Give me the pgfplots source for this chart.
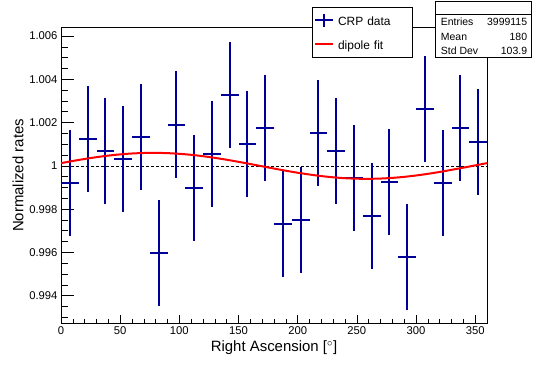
\documentclass[border=0pt]{standalone}
\usepackage{fontspec}
\setmainfont{Liberation Sans}
\usepackage{pgfplots}
\usepackage{pgfplotstable}
\pgfplotsset{compat=1.18}
\definecolor{crpblue}{RGB}{0,0,153}
\pgfplotstableread{
x y ex ey
7.5 0.99919 7.5 0.00245
22.5 1.00123 7.5 0.00245
37.5 1.00068 7.5 0.00245
52.5 1.00031 7.5 0.00245
67.5 1.00133 7.5 0.00245
82.5 0.99598 7.5 0.00245
97.5 1.00191 7.5 0.00245
112.5 0.99896 7.5 0.00245
127.5 1.00055 7.5 0.00245
142.5 1.00327 7.5 0.00245
157.5 1.00103 7.5 0.00245
172.5 1.00177 7.5 0.00245
187.5 0.99732 7.5 0.00245
202.5 0.99751 7.5 0.00245
217.5 1.00152 7.5 0.00245
232.5 1.00068 7.5 0.00245
247.5 0.99946 7.5 0.00245
262.5 0.99768 7.5 0.00245
277.5 0.99925 7.5 0.00245
292.5 0.99577 7.5 0.00245
307.5 1.00263 7.5 0.00245
322.5 0.99920 7.5 0.00245
337.5 1.00177 7.5 0.00245
352.5 1.00109 7.5 0.00245
}\crpdata
\pgfplotstableread{
x y
0 1.000125
10 1.000225
20 1.000318
30 1.000401
40 1.000473
50 1.000530
60 1.000571
70 1.000594
80 1.000600
90 1.000587
100 1.000556
110 1.000509
120 1.000446
130 1.000369
140 1.000282
150 1.000185
160 1.000084
170 0.999979
180 0.999875
190 0.999775
200 0.999682
210 0.999599
220 0.999527
230 0.999470
240 0.999429
250 0.999406
260 0.999400
270 0.999413
280 0.999444
290 0.999491
300 0.999554
310 0.999631
320 0.999718
330 0.999815
340 0.999916
350 1.000021
360 1.000125
}\fitdata
\begin{document}
\begin{tikzpicture}
\useasboundingbox (0bp,0bp) rectangle (533bp,365bp);
\begin{axis}[
  at={(61bp,41.7bp)}, anchor=south west,
  scale only axis, width=426bp, height=295.6bp,
  xmin=0, xmax=360, ymin=0.992725, ymax=1.006383,
  axis line style={black, line width=0.8bp},
  tick align=inside, xtick pos=bottom, ytick pos=left,
  xtick={0,50,...,350},
  minor xtick={0,10,...,360},
  ytick={0.994,0.996,0.998,1,1.002,1.004,1.006},
  minor ytick={0.993,0.9935,0.9945,0.995,0.9955,0.9965,0.997,0.9975,0.9985,0.999,0.9995,1.0005,1.001,1.0015,1.0025,1.003,1.0035,1.0045,1.005,1.0055,1.0065},
  xtick style={black, line width=0.6bp, /pgfplots/major tick length=8.3bp, /pgfplots/minor tick length=4.5bp},
  ytick style={black, line width=0.6bp, /pgfplots/major tick length=13bp, /pgfplots/minor tick length=6.7bp},
  scaled y ticks=false, scaled x ticks=false,
  yticklabel style={/pgf/number format/fixed, /pgf/number format/precision=3},
  /pgf/number format/assume math mode=true,
  tick label style={font=\fontsize{11.3}{13}\selectfont},
  label style={font=\fontsize{15}{17}\selectfont},
  xlabel={Right Ascension [$^\circ$]},
  ylabel={Normalized rates},
  xlabel style={at={(axis description cs:0.5,-0.0836)}, anchor=center},
  ylabel style={at={(axis description cs:-0.101,0.5)}, anchor=center},
  legend style={at={(axis description cs:0.5885,1.0711)}, anchor=north west,
    draw=black, line width=0.8bp, fill=white, inner xsep=2.3bp, inner ysep=1.7bp,
    row sep=0bp, column sep=4bp,
    font=\fontsize{12}{14}\selectfont,
    nodes={inner sep=0pt, text width=72bp, text height=17bp, text depth=6.3bp}},
  legend cell align=left,
]
\addlegendimage{legend image code/.code={\draw[crpblue, line width=2bp] (0bp,0bp) -- (17.7bp,0bp) (8.85bp,-6.3bp) -- (8.85bp,6.3bp);}}
\addlegendentry{CRP data}
\addlegendimage{legend image code/.code={\draw[red, line width=2bp] (0bp,0bp) -- (17.7bp,0bp);}}
\addlegendentry{dipole fit}
\addplot[forget plot, black, line width=0.6bp, dash pattern=on 2.5bp off 2.5bp] coordinates {(0,1) (360,1)};
\addplot[forget plot, crpblue, draw=none, mark=none, line width=2bp,
  error bars/.cd, x dir=both, x explicit, y dir=both, y explicit, error mark=none,
  error bar style={draw=crpblue, line width=2bp, solid}]
  table[x=x, y=y, x error=ex, y error=ey] {\crpdata};
\addplot[forget plot, red, line width=2bp, smooth] table[x=x, y=y] {\fitdata};
\end{axis}
\draw[line width=0.8bp, fill=white] (435bp,364bp) rectangle (531bp,307.7bp);
\draw[line width=0.8bp] (435bp,350.7bp) -- (531bp,350.7bp);
\begin{scope}[every node/.style={inner sep=0pt, font=\fontsize{10.5}{12}\selectfont}]
\node[anchor=base west] at (440.7bp,339bp) {Entries};
\node[anchor=base east] at (527.3bp,339bp) {3999115};
\node[anchor=base west] at (440.7bp,324.7bp) {Mean};
\node[anchor=base east] at (527.3bp,324.7bp) {180};
\node[anchor=base west] at (440.7bp,310.7bp) {Std Dev};
\node[anchor=base east] at (527.3bp,310.7bp) {103.9};
\end{scope}
\end{tikzpicture}
\end{document}
